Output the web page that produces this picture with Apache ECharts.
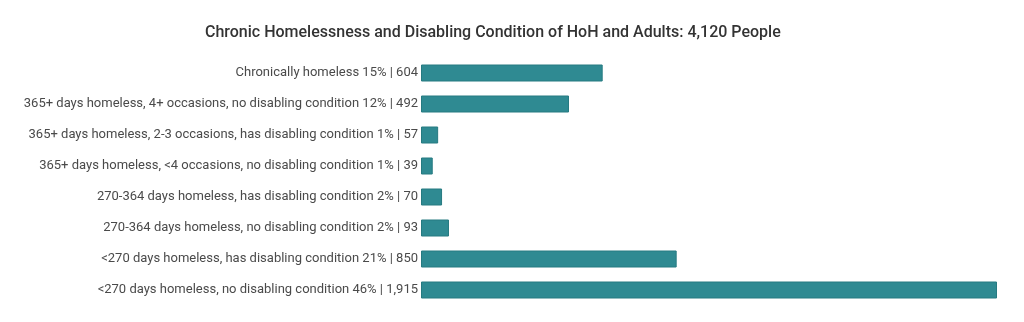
<!DOCTYPE html>
<html>
<head>
<meta charset="utf-8">
<script src="https://cdn.jsdelivr.net/npm/echarts@6/dist/echarts.min.js"></script>
<style>
html,body{margin:0;padding:0;background:#fff;}
#chart{width:1024px;height:322px;}
</style>
</head>
<body>
<div id="chart"></div>
<script>
var titleText = "Chronic Homelessness and Disabling Condition of HoH and Adults: 4,120 People";
var categories = [
  "Chronically homeless",
  "365+ days homeless, 4+ occasions, no disabling condition",
  "365+ days homeless, 2-3 occasions, has disabling condition",
  "365+ days homeless, <4 occasions, no disabling condition",
  "270-364 days homeless, has disabling condition",
  "270-364 days homeless, no disabling condition",
  "<270 days homeless, has disabling condition",
  "<270 days homeless, no disabling condition"
];
var values = [604, 492, 57, 39, 70, 93, 850, 1915];
var percents = [15, 12, 1, 1, 2, 2, 21, 46];

var labels = categories.map(function(c, i){
  return c + " " + percents[i] + "% | " + values[i].toLocaleString("en-US");
});

var chart = echarts.init(document.getElementById("chart"), null, {renderer: "canvas"});
chart.setOption({
  animation: false,
  backgroundColor: "#ffffff",
  title: {
    text: titleText,
    left: 200,
    top: 20,
    textStyle: {fontFamily: "Roboto", fontSize: 16, fontWeight: 500, color: "#333333"}
  },
  grid: {left: 421, right: 27, top: 57.5, bottom: 16.5, containLabel: false},
  xAxis: {
    type: "value", min: 0, max: 1915, show: false
  },
  yAxis: {
    type: "category",
    data: labels,
    inverse: true,
    axisLine: {show: false},
    axisTick: {show: false},
    splitLine: {show: false},
    axisLabel: {fontFamily: "Roboto", fontSize: 13, color: "#4a4a4a", margin: 3}
  },
  series: [{
    type: "bar",
    data: values,
    barWidth: 17,
    itemStyle: {color: "#2f8a92", borderColor: "#267a81", borderWidth: 1}
  }]
});
</script>
</body>
</html>
